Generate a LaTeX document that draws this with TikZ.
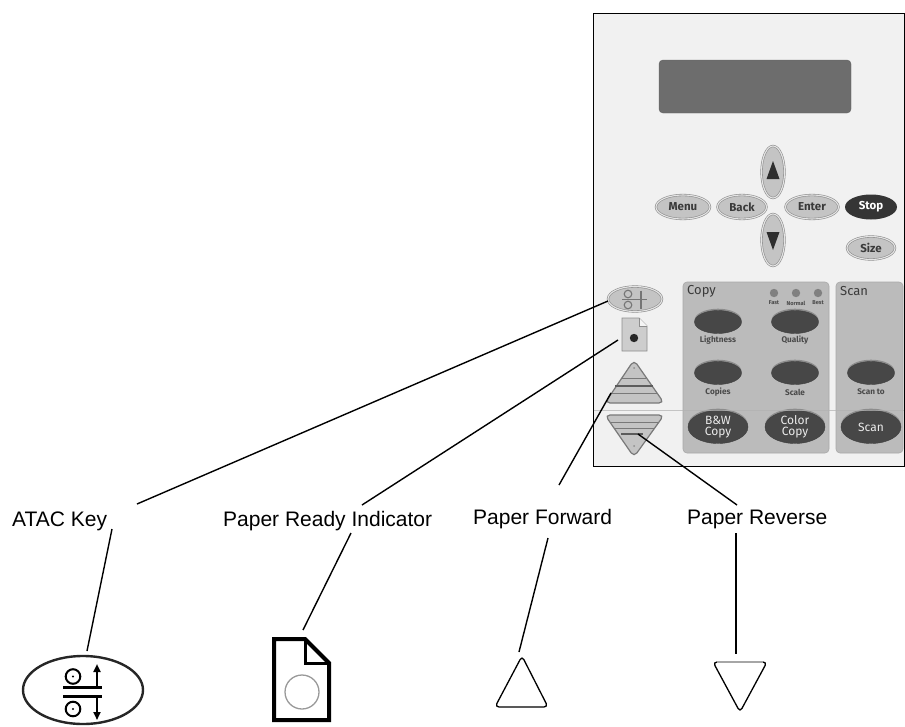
\documentclass[tikz,border=0pt]{standalone}
\usepackage{fontspec}
\setmainfont{Liberation Sans}
\newfontfamily\pf{Fira Sans}
\usetikzlibrary{shapes.geometric,arrows.meta}

\definecolor{panelbg}{HTML}{F1F1F1}
\definecolor{lcd}{HTML}{6D6D6D}
\definecolor{keyfill}{HTML}{C4C4C4}
\definecolor{keyedge}{HTML}{8E8E8E}
\definecolor{keyrim}{HTML}{E4E4E4}
\definecolor{keytext}{HTML}{3A3A3A}
\definecolor{darkkey}{HTML}{474747}
\definecolor{darkrim}{HTML}{8C8C8C}
\definecolor{areabg}{HTML}{BBBBBB}
\definecolor{areaedge}{HTML}{A8A8A8}
\definecolor{smalltext}{HTML}{4A4A4A}

\tikzset{
  lead/.style={line width=1.4pt, black},
  callout/.style={font=\fontsize{21}{25}\selectfont, inner sep=0pt, anchor=base west},
  lightkey/.style={ellipse, inner sep=0pt, fill=keyfill, draw=keyedge, line width=0.6pt,
    double=keyrim, double distance=1.1pt, text=keytext,
    font=\pf\bfseries\fontsize{11.5}{12}\selectfont},
  darkkey/.style={ellipse, inner sep=0pt, fill=darkkey, draw=darkkey!90!black, line width=0.4pt,
    preaction={fill=darkrim, transform canvas={yshift=1.8pt}},
    text=white!92!black, align=center, font=\pf\fontsize{12}{11.5}\selectfont},
  keycap/.style={text=smalltext, inner sep=0pt, font=\pf\bfseries\fontsize{8.2}{9}\selectfont},
  tinycap/.style={text=smalltext, inner sep=0pt, font=\pf\bfseries\fontsize{5.6}{6}\selectfont},
  area/.style={fill=areabg, draw=areaedge, line width=0.6pt, rounded corners=4pt},
  areatitle/.style={anchor=west, inner sep=0pt, text=keytext, font=\pf\fontsize{13}{14}\selectfont},
  paddleline/.style={draw=keyedge!85!black, line width=1pt},
  bigarrow/.style={line width=2pt, -{Triangle[length=8pt,width=7pt]}},
}

\begin{document}
\begin{tikzpicture}[x=1pt,y=-1pt]
\useasboundingbox (0,0) rectangle (905,726);

% ---------------- control panel ----------------
\draw[fill=panelbg, line width=0.8pt] (593,13) rectangle (904,466);

% display window
\draw[fill=lcd, draw=lcd!90!black, rounded corners=4pt] (659,60) rectangle (851,113);

% navigation keys
\node[lightkey, minimum width=23pt, minimum height=52pt] (upkey) at (773,172) {};
\fill[keytext!80!black] (773,161) -- (779.5,179) -- (766.5,179) -- cycle;
\node[lightkey, minimum width=23pt, minimum height=52pt] (downkey) at (773,240) {};
\fill[keytext!80!black] (766.5,232) -- (779.5,232) -- (773,250) -- cycle;
\node[lightkey, minimum width=54pt, minimum height=24pt] (menu) at (683,207) {Menu};
\node[lightkey, minimum width=49pt, minimum height=24pt] (back) at (742,207) {Back};
\node[lightkey, minimum width=53pt, minimum height=24pt] (enter) at (812,207) {Enter};
\node[ellipse, inner sep=0pt, minimum width=52pt, minimum height=25pt, fill=darkkey!75!black,
      text=white, font=\pf\bfseries\fontsize{11.5}{12}\selectfont] (stop) at (871,207) {Stop};
\node[lightkey, minimum width=48pt, minimum height=23pt] (size) at (871,248) {Size};

% ATAC key with its small pictogram
\node[lightkey, minimum width=54pt, minimum height=25pt] (atackey) at (635,299) {};
\begin{scope}[draw=keytext!70, line width=1.1pt]
  \draw (628,294) circle (3.8pt);
  \draw (628,305) circle (3.8pt);
  \draw (622,299.5) -- (647,299.5);
  \draw (641,290.5) -- (641,308.5);
\end{scope}

% paper ready indicator
\draw[fill=keyfill!85!white, draw=keyedge, line width=0.8pt]
  (622,318) -- (639,318) -- (647,326) -- (647,351) -- (622,351) -- cycle;
\fill[white!92!gray] (639,318) -- (647,326) -- (639,326) -- cycle;
\draw[draw=keyedge, line width=0.6pt] (639,318) -- (639,326) -- (647,326);
\fill[black!85] (634,338) circle (4.2pt);
\coordinate (readyled) at (634,338);

% paper forward paddle
\draw[fill=keyfill, draw=keyedge!85!black, line width=1.2pt, rounded corners=5pt]
  (634,360) -- (664,403) -- (605,403) -- cycle;
\fill[keyedge] (634,368) circle (1pt);
\draw[paddleline] (622,378) -- (646,378);
\draw[paddleline, draw=keyedge!65!black, line width=1.6pt] (615,386) -- (653,386);
\draw[paddleline] (610,393) -- (658,393);
\coordinate (fwdpaddle) at (634,385);

% paper reverse paddle
\draw[fill=keyfill, draw=keyedge!85!black, line width=1.2pt, rounded corners=5pt]
  (605,415) -- (664,415) -- (634,457) -- cycle;
\draw[paddleline] (610,422) -- (658,422);
\draw[paddleline] (614,428) -- (654,428);
\draw[paddleline, draw=keyedge!65!black, line width=1.6pt] (621,434) -- (643,434);
\fill[keyedge] (634,446) circle (1pt);
\coordinate (revpaddle) at (634,430);

% copy area
\draw[area] (683,282) rectangle (829,453);
\node[areatitle] (copytitle) at (687,291) {Copy};
\foreach \x/\t [count=\i] in {774/Fast, 796/Normal, 818/Best} {
  \fill[keyedge!90!black] (\x,293) circle (4.2pt);
  \node[tinycap] (mode\i) at (\x,303) {\t};
}
\node[darkkey, minimum width=47pt, minimum height=23pt] (lightness) at (718,322) {};
\node[keycap] (lightnesscap) at (718,340) {Lightness};
\node[darkkey, minimum width=47pt, minimum height=23pt] (quality) at (795,322) {};
\node[keycap] (qualitycap) at (795,340) {Quality};
\node[darkkey, minimum width=47pt, minimum height=23pt] (copies) at (718,373) {};
\node[keycap] (copiescap) at (718,392) {Copies};
\node[darkkey, minimum width=47pt, minimum height=23pt] (scale) at (795,373) {};
\node[keycap] (scalecap) at (795,392) {Scale};
\node[darkkey, minimum width=60pt, minimum height=33pt] (bwcopy) at (718,427) {B\&W\\Copy};
\node[darkkey, minimum width=60pt, minimum height=33pt] (colorcopy) at (795,427) {Color\\Copy};

% scan area
\draw[area] (836,282) rectangle (903,453);
\node[areatitle] (scantitle) at (840,291) {Scan};
\node[darkkey, minimum width=47pt, minimum height=23pt] (scanto) at (871,373) {};
\node[keycap] (scantocap) at (871,392) {Scan to};
\node[darkkey, minimum width=60pt, minimum height=33pt] (scan) at (871,427) {Scan};

% faint seam across the lower panel
\draw[draw=gray!60, line width=0.6pt, opacity=0.7] (593.5,410) -- (903.5,410);

% ---------------- enlarged symbols ----------------
% ATAC symbol
\coordinate (atacicon) at (83,690);
\draw[line width=2.4pt, draw=black!85] (atacicon) ellipse (60pt and 34pt);
\draw[line width=2pt] (73,676.5) circle (7.3pt);
\fill (73,676.5) circle (1.2pt);
\draw[line width=2.8pt] (63,687.5) -- (102,687.5);
\draw[line width=2.8pt] (63,696.5) -- (102,696.5);
\draw[line width=2pt] (73,709) circle (7.3pt);
\fill (73,709) circle (1.2pt);
\draw[bigarrow] (97,686) -- (97,664);
\draw[bigarrow] (97,698) -- (97,720);

% paper ready symbol
\coordinate (readyicon) at (302,680);
\draw[line width=4pt, line join=miter]
  (274,639) -- (305,639) -- (329,663) -- (329,720) -- (274,720) -- cycle;
\draw[line width=3pt] (305,639) -- (305,663) -- (329,663);
\draw[gray!80, line width=1.3pt] (302,692) circle (17pt);

% paper forward symbol
\coordinate (fwdicon) at (522,682);
\draw[line width=1.3pt, rounded corners=4pt] (522,656) -- (548,707) -- (495,707) -- cycle;

% paper reverse symbol
\coordinate (revicon) at (740,685);
\draw[line width=1.3pt, rounded corners=4pt] (713,662) -- (767,662) -- (740,712) -- cycle;
\draw[gray!70, line width=1.6pt] (717,662) -- (763,662);

% ---------------- callouts ----------------
\node[callout] (atacLbl) at (12,526) {ATAC Key};
\node[callout] (readyLbl) at (223,526) {Paper Ready Indicator};
\node[callout] (fwdLbl) at (473,524) {Paper Forward};
\node[callout] (revLbl) at (687,524) {Paper Reverse};

\coordinate (atacKeyTip) at (608,301);
\coordinate (atacLblUp) at (137,504);
\coordinate (atacLblDn) at (112,529);
\coordinate (atacIconTip) at (87,651);

\coordinate (readyTip) at (618,340);
\coordinate (readyLblUp) at (362,505);
\coordinate (readyLblDn) at (351,533);
\coordinate (readyIconTip) at (303,630);

\coordinate (fwdTip) at (611,393);
\coordinate (fwdLblUp) at (559,485);
\coordinate (fwdLblDn) at (548,538);
\coordinate (fwdIconTip) at (519,652);

\coordinate (revTip) at (638,434);
\coordinate (revLblUp) at (737,505);
\coordinate (revLblDn) at (736,533);
\coordinate (revIconTip) at (736,654);

\draw[lead] (atacKeyTip) -- (atacLblUp);
\draw[lead] (atacLblDn) -- (atacIconTip);
\draw[lead] (readyTip) -- (readyLblUp);
\draw[lead] (readyLblDn) -- (readyIconTip);
\draw[lead] (fwdTip) -- (fwdLblUp);
\draw[lead] (fwdLblDn) -- (fwdIconTip);
\draw[lead] (revTip) -- (revLblUp);
\draw[lead] (revLblDn) -- (revIconTip);
\end{tikzpicture}
\end{document}
